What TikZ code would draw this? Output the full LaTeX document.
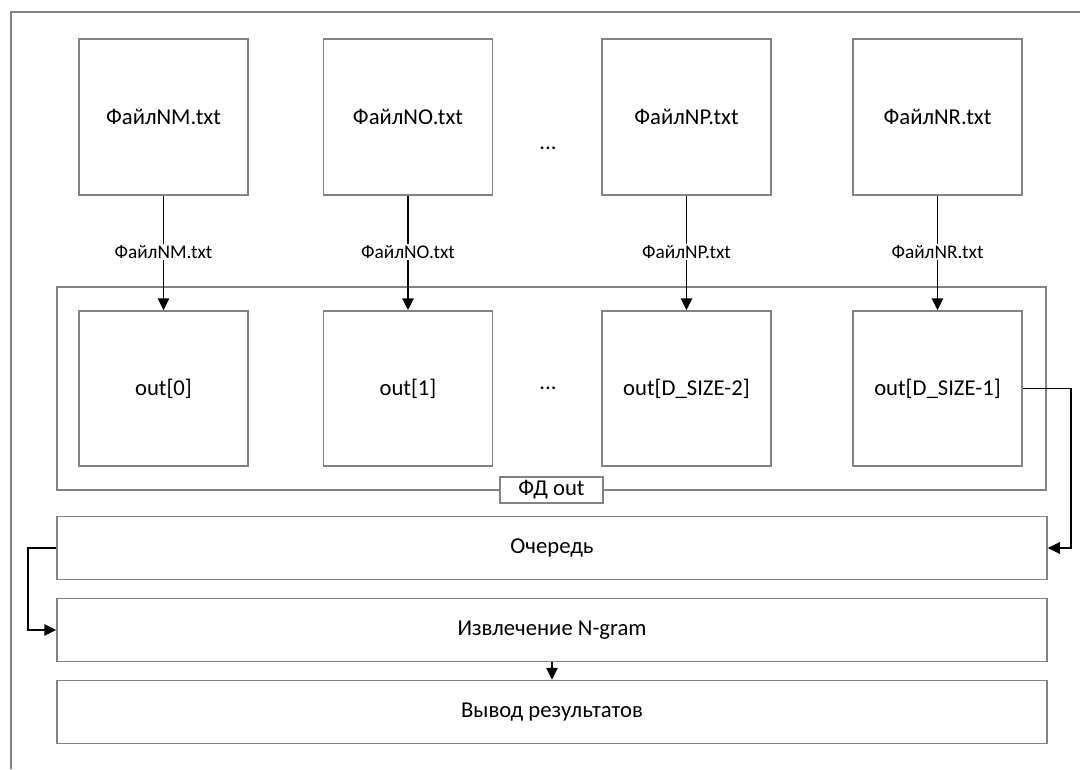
\documentclass[tikz,border=0pt]{standalone}
\usepackage{fontspec}
\setmainfont{Carlito}
\usetikzlibrary{arrows.meta}
\begin{document}
\begin{tikzpicture}[x=0.75pt,y=-0.75pt,
  box/.style={draw=boxgray,line width=1.1pt,fill=white,inner sep=0pt,font=\fontsize{17}{20}\selectfont},
  filebox/.style={box,minimum width=169*0.75pt,minimum height=156*0.75pt},
  outbox/.style={box,minimum width=169*0.75pt,minimum height=155*0.75pt},
  wide/.style={box,minimum width=990*0.75pt,minimum height=63*0.75pt},
  lbl/.style={fill=white,inner sep=1pt,font=\fontsize{14.5}{17}\selectfont},
  conn/.style={line width=1.4pt,-{Triangle[length=9pt,width=8.5pt]}},
  dots/.style={font=\fontsize{17}{20}\selectfont}]
\definecolor{boxgray}{RGB}{128,130,132}
\useasboundingbox (0,0) rectangle (1080,769);
\fill[white] (0,0) rectangle (1080,769);
% outer frame (cropped)
\draw[boxgray,line width=1.1pt] (11,769) -- (11,12) -- (1080,12);
% container
\node[draw=boxgray,line width=1.1pt,minimum width=989*0.75pt,minimum height=203*0.75pt,inner sep=0pt] (cont) at (551.5,388.5) {};
% top file boxes
\node[filebox] (f1) at (163.5,117) {ФайлNM.txt};
\node[filebox] (f2) at (408,117) {ФайлNO.txt};
\node[filebox] (f3) at (686.5,117) {ФайлNP.txt};
\node[filebox] (f4) at (937.5,117) {ФайлNR.txt};
\node[dots] (d1) at (548,148) {...};
% inner boxes
\node[outbox] (o1) at (163.5,388.5) {out[0]};
\node[outbox] (o2) at (408,388.5) {out[1]};
\node[outbox] (o3) at (686.5,388.5) {out[D\_SIZE-2]};
\node[outbox] (o4) at (937.5,388.5) {out[D\_SIZE-1]};
\node[dots] (d2) at (548,388) {...};
% container label
\node[box,minimum width=103*0.75pt,minimum height=26*0.75pt] (fd) at (551.5,490) {ФД out};
% wide boxes
\node[wide] (q) at (552,548) {Очередь};
\node[wide] (e) at (552,630) {Извлечение N-gram};
\node[wide] (r) at (552,712) {Вывод результатов};
% connectors
\foreach \i/\t in {1/ФайлNM.txt,2/ФайлNO.txt,3/ФайлNP.txt,4/ФайлNR.txt}{
  \draw[conn] (f\i.south) -- node[lbl,pos=0.49] {\t} (o\i.north);
}
\coordinate (rc1) at (1071,388.5);
\coordinate (rc2) at (1071,548);
\draw[conn] (o4.east) -- (rc1) -- (rc2) -- (q.east);
\coordinate (lc1) at (28,548);
\coordinate (lc2) at (28,630);
\draw[conn] (q.west) -- (lc1) -- (lc2) -- (e.west);
\draw[conn] (e.south) -- (r.north);
\end{tikzpicture}
\end{document}
